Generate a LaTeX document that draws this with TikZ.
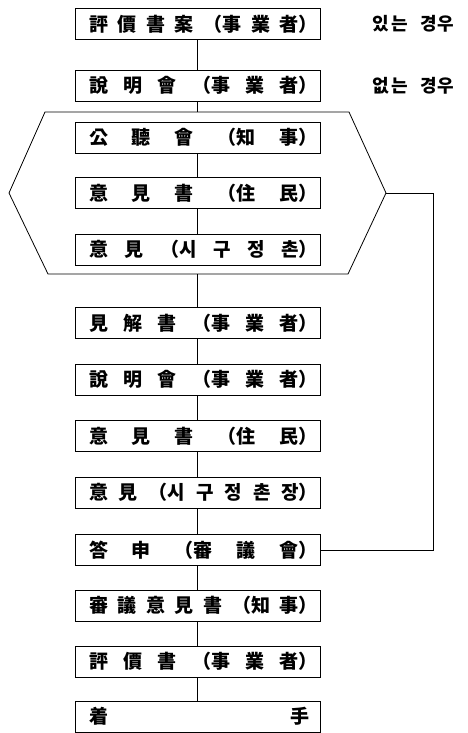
\documentclass[tikz,border=0pt]{standalone}
\usepackage{fontspec}
\setmainfont{Noto Sans CJK KR}
\newcommand\bxt[2][2pt]{\hbox to 245pt{\hskip 14pt #2\hskip #1}}
\begin{document}
\begin{tikzpicture}[x=1pt,y=-1pt,
  box/.style={draw, line width=0.9pt, minimum width=245pt, minimum height=31pt, inner sep=0pt, font=\fontsize{19}{22}\selectfont\bfseries},
  side/.style={inner sep=0pt, font=\fontsize{18}{21}\selectfont\bfseries},
  ln/.style={line width=0.8pt}]
\useasboundingbox (0,0) rectangle (467,733);
% boxes
\node[box] (b1)  at (197.5,24)    {\bxt{評\hfill 價\hfill 書\hfill 案\hfill （事\hfill 業\hfill 者）}};
\node[box] (b2)  at (197.5,85.5)  {\bxt{說\hfill 明\hfill 會\hfill （事\hfill 業\hfill 者）}};
\node[box] (b3)  at (197.5,137.5) {\bxt{公\hfill 聽\hfill 會\hfill （知\hfill 事）}};
\node[box] (b4)  at (197.5,193)   {\bxt{意\hfill 見\hfill 書\hfill （住\hfill 民）}};
\node[box] (b5)  at (197.5,249.5) {\bxt{意\hfill 見\hfill （시\hfill 구\hfill 정\hfill 촌）}};
\node[box] (b6)  at (197.5,323)   {\bxt{見\hfill 解\hfill 書\hfill （事\hfill 業\hfill 者）}};
\node[box] (b7)  at (197.5,379.5) {\bxt{說\hfill 明\hfill 會\hfill （事\hfill 業\hfill 者）}};
\node[box] (b8)  at (197.5,436)   {\bxt{意\hfill 見\hfill 書\hfill （住\hfill 民）}};
\node[box] (b9)  at (197.5,492.5) {\bxt{意\hfill 見\hfill （시\hfill 구\hfill 정\hfill 촌\hfill 장）}};
\node[box] (b10) at (197.5,550)   {\bxt{答\hfill 申\hfill （審\hfill 議\hfill 會）}};
\node[box] (b11) at (197.5,605.5) {\bxt{審\hfill 議\hfill 意\hfill 見\hfill 書\hfill （知\hfill 事）}};
\node[box] (b12) at (197.5,661.5) {\bxt{評\hfill 價\hfill 書\hfill （事\hfill 業\hfill 者）}};
\node[box] (b13) at (197.5,716.5) {\bxt[11pt]{着\hfill 手}};
% side labels
\node[side] (s1) at (413.5,24) {\hbox to 82pt{있\hskip 2pt 는\hfill 경\hskip 1pt 우}};
\node[side] (s2) at (413.5,85.5) {\hbox to 82pt{없\hskip 2pt 는\hfill 경\hskip 1pt 우}};
% hexagon
\coordinate (h1) at (45,112);
\coordinate (h2) at (349,112);
\coordinate (hr) at (386,193);
\coordinate (h4) at (348,274);
\coordinate (h5) at (48,274);
\coordinate (hl) at (9,193);
\coordinate (htop) at (197.5,112);
\coordinate (hbot) at (197.5,274);
\draw[ln] (h1) -- (h2) -- (hr) -- (h4) -- (h5) -- (hl) -- cycle;
% connectors
\draw[ln] (b1) -- (b2);
\draw[ln] (b2) -- (htop);
\draw[ln] (b3) -- (b4);
\draw[ln] (b4) -- (b5);
\draw[ln] (hbot) -- (b6);
\draw[ln] (b6) -- (b7);
\draw[ln] (b7) -- (b8);
\draw[ln] (b8) -- (b9);
\draw[ln] (b9) -- (b10);
\draw[ln] (b10) -- (b11);
\draw[ln] (b11) -- (b12);
\draw[ln] (b12) -- (b13);
\coordinate (r1) at (433,193);
\coordinate (r2) at (433,550);
\draw[ln] (hr) -- (r1) -- (r2) -- (b10.east);
\end{tikzpicture}
\end{document}
